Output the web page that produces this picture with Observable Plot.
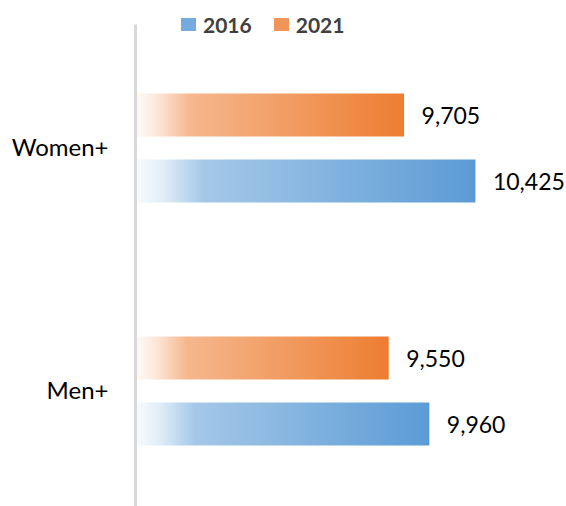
<!DOCTYPE html>
<html>
<head>
<meta charset="utf-8">
<script src="https://cdn.jsdelivr.net/npm/d3@7"></script>
<script src="https://cdn.jsdelivr.net/npm/@observablehq/plot@0.6"></script>
<style>
  html, body { margin: 0; padding: 0; background: #fff; }
  #wrap { position: relative; width: 566px; height: 506px; overflow: hidden; }
  #legend { position: absolute; top: 12px; left: 181px; display: flex; align-items: center;
            font-family: Lato, "Open Sans", sans-serif; font-size: 21px; font-weight: bold; color: #404040; }
  #legend .item { display: flex; align-items: center; margin-right: 22px; }
  #legend .sw { width: 15px; height: 13px; margin-right: 7px; }
  #chart { position: absolute; top: 0; left: 0; }
  #chart g[aria-label="y-axis tick label"] text { font-size: 24px; }
</style>
</head>
<body>
<div id="wrap">
  <div id="chart"></div>
  <div id="legend"></div>
</div>
<script>
const categories = ["Women+", "Men+"];
const years = ["2016", "2021"];
const values2016 = [10425, 9960];
const values2021 = [9705, 9550];
const colors = {"2016": "#5B9BD5", "2021": "#ED7D31"};
const swatchColors = {"2016": "#74aadd", "2021": "#f0965a"};

const rows2016 = categories.map((c, i) => ({category: c, year: "2016", value: values2016[i]}));
const rows2021 = categories.map((c, i) => ({category: c, year: "2021", value: values2021[i]}));

const gradientDefs = () => {
  const defs = d3.create("svg:defs");
  for (const y of years) {
    const g = defs.append("linearGradient")
      .attr("id", "grad" + y)
      .attr("x1", "0").attr("x2", "1").attr("y1", "0").attr("y2", "0");
    const stops = [[0, 0.04], [0.08, 0.18], [0.2, 0.55], [1, 1]];
    for (const [o, a] of stops) {
      g.append("stop").attr("offset", o).attr("stop-color", colors[y]).attr("stop-opacity", a);
    }
  }
  return defs.node();
};

const fmt = d3.format(",");
const barInset = 93.5;

const plot = Plot.plot({
  width: 566,
  height: 506,
  marginLeft: 136,
  marginRight: 0,
  marginTop: 32.5,
  marginBottom: 0,
  style: {fontFamily: "Lato, 'Open Sans', sans-serif", fontSize: "23px", color: "#000", background: "transparent"},
  x: {domain: [7000, 11339], axis: null},
  y: {domain: categories, paddingInner: 0.0554, paddingOuter: 0, axis: "left", tickSize: 0, tickPadding: 28, label: null},
  marks: [
    gradientDefs,
    Plot.barX(rows2021, {x1: 7000, x2: "value", y: "category", dy: -33, insetTop: barInset, insetBottom: barInset, fill: "url(#grad2021)"}),
    Plot.barX(rows2016, {x1: 7000, x2: "value", y: "category", dy: 33, insetTop: barInset, insetBottom: barInset, fill: "url(#grad2016)"}),
    Plot.text(rows2021, {x: "value", y: "category", text: d => fmt(d.value), dx: 17, dy: -32, textAnchor: "start", fill: "#000"}),
    Plot.text(rows2016, {x: "value", y: "category", text: d => fmt(d.value), dx: 17, dy: 34, textAnchor: "start", fill: "#000"}),
    Plot.ruleX([7000], {stroke: "#d9d9d9", strokeWidth: 3, dx: -1, insetTop: -8})
  ]
});
document.getElementById("chart").append(plot);

const legend = d3.select("#legend");
for (const y of years) {
  const item = legend.append("div").attr("class", "item");
  item.append("div").attr("class", "sw").style("background", swatchColors[y]);
  item.append("span").text(y);
}
</script>
</body>
</html>
